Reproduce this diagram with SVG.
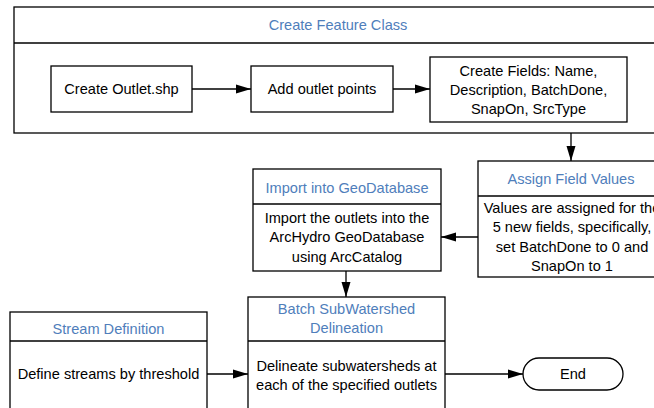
<svg xmlns="http://www.w3.org/2000/svg" width="654" height="408" viewBox="0 0 654 408">
<style>
rect,line,path.b{fill:#fff;stroke:#000;stroke-width:1.3}
.t{font-family:"Liberation Sans",Arial,sans-serif;font-size:14.6px;fill:#000;text-anchor:middle;dominant-baseline:central}
.h{fill:#4F7EBB}
.c line,.c path{stroke:#000;stroke-width:1.3;fill:none}
</style>
<defs>
<marker id="ar" markerUnits="userSpaceOnUse" markerWidth="16" markerHeight="10" refX="15" refY="5" orient="auto">
<path d="M0,0.5 L15,5 L0,9.5 Z" fill="#000"/>
</marker>
</defs>
<rect x="0" y="0" width="654" height="408" style="fill:#fff;stroke:none"/>
<g id="feature-class">
<rect x="14" y="7" width="648" height="126"/>
<line x1="14" y1="43" x2="662" y2="43"/>
<text class="t h" x="338" y="25">Create Feature Class</text>
</g>
<g id="create-outlet">
<rect x="51" y="66" width="141" height="46"/>
<text class="t" x="121.5" y="89">Create Outlet.shp</text>
</g>
<g id="add-points">
<rect x="251" y="66" width="142" height="46"/>
<text class="t" x="322" y="89">Add outlet points</text>
</g>
<g id="create-fields">
<rect x="430" y="57" width="197" height="65"/>
<text class="t" x="528.5" y="70.5">Create Fields: Name,</text>
<text class="t" x="528.5" y="89.5">Description, BatchDone,</text>
<text class="t" x="528.5" y="108.5">SnapOn, SrcType</text>
</g>
<g id="assign-values">
<rect x="478" y="161" width="186" height="116"/>
<line x1="478" y1="196" x2="664" y2="196"/>
<text class="t h" x="571" y="179">Assign Field Values</text>
<text class="t" x="572" y="208">Values are assigned for the</text>
<text class="t" x="572" y="227">5 new fields, specifically,</text>
<text class="t" x="572" y="247">set BatchDone to 0 and</text>
<text class="t" x="572" y="266">SnapOn to 1</text>
</g>
<g id="import-gdb">
<rect x="253" y="169" width="188" height="102"/>
<line x1="253" y1="204" x2="441" y2="204"/>
<text class="t h" x="347" y="188">Import into GeoDatabase</text>
<text class="t" x="347" y="218">Import the outlets into the</text>
<text class="t" x="347" y="237">ArcHydro GeoDatabase</text>
<text class="t" x="347" y="257">using ArcCatalog</text>
</g>
<g id="stream-definition">
<rect x="10" y="312" width="197" height="110"/>
<line x1="10" y1="341" x2="207" y2="341"/>
<text class="t h" x="108.5" y="329">Stream Definition</text>
<text class="t" x="108.5" y="374">Define streams by threshold</text>
</g>
<g id="batch-delineation">
<rect x="248" y="297" width="197" height="125"/>
<line x1="248" y1="341" x2="445" y2="341"/>
<text class="t h" x="346.5" y="309">Batch SubWatershed</text>
<text class="t h" x="346.5" y="328">Delineation</text>
<text class="t" x="346.5" y="366">Delineate subwatersheds at</text>
<text class="t" x="346.5" y="385">each of the specified outlets</text>
</g>
<g id="end">
<rect x="523" y="358" width="100" height="32" rx="16" ry="16"/>
<text class="t" x="573" y="374">End</text>
</g>
<g id="connectors" class="c">
<line x1="192" y1="89" x2="251" y2="89" marker-end="url(#ar)"/>
<line x1="393" y1="89" x2="430" y2="89" marker-end="url(#ar)"/>
<line x1="571" y1="133" x2="571" y2="161" marker-end="url(#ar)"/>
<line x1="478" y1="237" x2="441" y2="237" marker-end="url(#ar)"/>
<line x1="346" y1="271" x2="346" y2="297" marker-end="url(#ar)"/>
<line x1="207" y1="374" x2="248" y2="374" marker-end="url(#ar)"/>
<line x1="445" y1="374" x2="523" y2="374" marker-end="url(#ar)"/>
</g>
</svg>
